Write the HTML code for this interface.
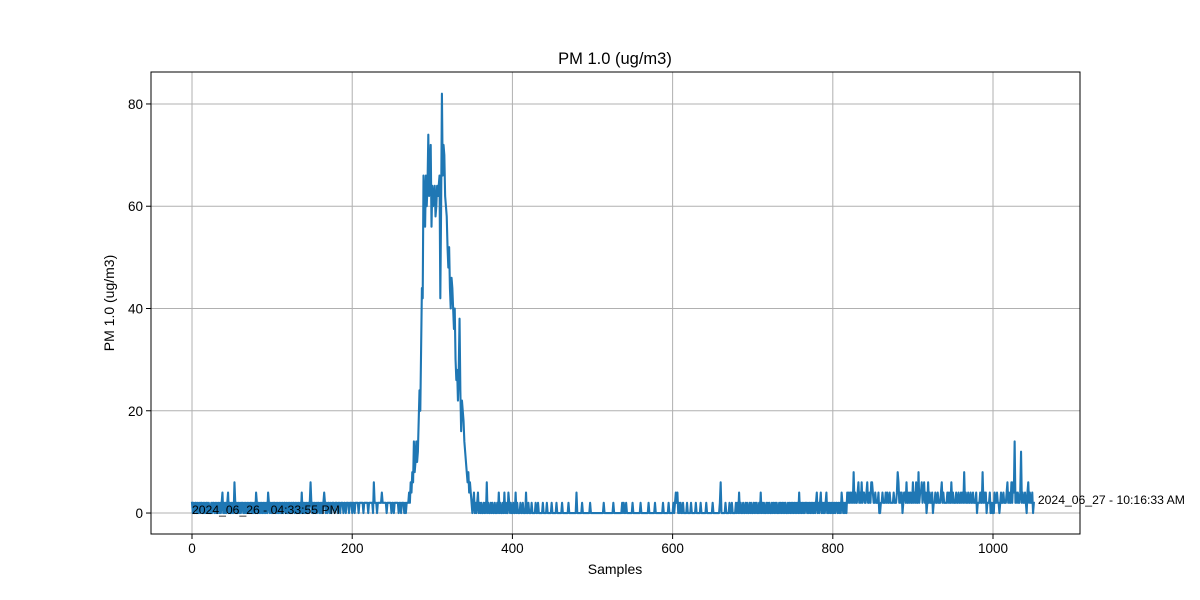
<!DOCTYPE html>
<html><head><meta charset="utf-8"><style>
html,body{margin:0;padding:0;background:#fff;}
svg{display:block;font-family:"Liberation Sans","DejaVu Sans",sans-serif;}
</style></head><body>
<svg id="chart" width="1200" height="600" viewBox="0 0 1200 600" xmlns="http://www.w3.org/2000/svg">
<rect width="1200" height="600" fill="#fff"/>
<g id="grid"></g><g id="ticks"></g>
<clipPath id="clip"><rect x="151" y="72" width="929" height="462"/></clipPath>
<g id="series" clip-path="url(#clip)"></g>
<rect x="151" y="72" width="929" height="462" fill="none" stroke="#000" stroke-width="1"/>
<text x="615" y="64" text-anchor="middle" font-size="16.5">PM 1.0 (ug/m3)</text>
<text x="615" y="574" text-anchor="middle" font-size="14">Samples</text>
<text transform="translate(114,303) rotate(-90)" text-anchor="middle" font-size="14">PM 1.0 (ug/m3)</text>
<g id="annots"></g>
</svg>
<script>
const segA=[2,0,2,0,2,2,0,2,0,2,0,2,2,0,2,0,2,0,2,2,0,2,0,0,2,0,2,2,0,2,
0,2,0,2,0,2,0,2,4,0,2,0,2,0,2,4,0,2,0,2,0,2,0,6,2,0,2,0,2,0,
2,0,2,2,0,2,0,2,0,2,0,2,0,2,2,0,2,0,2,0,4,2,0,2,0,2,0,2,0,2,
0,2,0,2,0,4,2,0,2,0,2,0,2,2,0,2,0,2,0,2,0,2,0,2,0,2,2,0,2,0,
2,0,2,0,2,0,2,2,0,2,0,2,0,2,0,2,0,4,0,2,0,2,0,2,0,2,0,2,6,2,
0,2,0,2,0,2,0,2,2,0,2,0,2,0,2,4,2,0,2,0,2,2,0,2,0,2,2,2,0,2,
2,2,0,2,2,0,2,2,2,0,2,2,0,2,2,2,0,2,2,2,0,2,2,0,2,2,2,2,0,2,
2,2,2,2,0,2,2,2,2,2,0,2,2,2,2,2,0,6,2,2,2,0,2,2,2,2,2,4,2,2,
2,2,2,0,2,2,2,2,2,0,2,2,0,2,2,2,2,2,0,2,2,0,2,2,2,0,2,0,2,2];
const segB=[2,4,2,6,4,8,6,14,8,10,14,10,12,18,24,20,32,44,42,66,
62,56,66,60,64,74,62,66,72,56,64,60,62,64,58,60,64,62,64,66,42,60,82,
66,72,70,62,60,58,52,48,52,44,40,46,44,40,36,40,30,26,28,22,28,38,24,16,22,20,18,14,12,10,8,6,8,4,6,4,2,0,2,4,0,2,0,2,4];
const segC=[0,2,0,2,0,0,2,0,2,0,6,0,2,0,0,2,0,2,0,0,2,0,0,2,0,4,0,2,0,0,
2,0,4,0,2,0,0,4,2,0,2,0,0,2,0,0,4,0,2,0,0,0,2,0,0,2,0,0,0,4,
0,0,2,0,0,0,2,0,0,0,0,2,0,0,2,0,0,0,0,0,2,0,0,0,0,2,0,0,0,0,
0,2,0,0,0,0,0,2,0,0,0,0,0,0,2,0,0,0,0,0,0,0,2,0,0,0,0,0,0,0,
0,0,4,0,0,0,0,0,0,2,0,0,0,0,0,0,0,0,0,2,0,0,0,0,0,0,0,0,0,0,
0,0,0,0,0,0,2,0,0,0,0,0,0,0,0,0,0,0,2,0,0,0,0,0,0,0,0,0,0,2,
0,2,0,0,2,0,0,0,0,0,0,0,2,0,0,0,0,0,0,0,0,0,2,0,0,0,0,0,0,0,
0,0,2,0,0,0,0,0,0,0,2,0,0,0,0,0,0,0,0,0,2,0,0,0,0,0,0,2,0,0,0,0];
const segD=[0,2,0,2,4,2,4,0,2,0,2,0,0,2,0,0,0,0,2,0,0,0,0,2,0,0,0,0,0,2,
0,0,0,0,0,2,0,0,0,0,0,0,2,0,0,0,0,0,0,0,2,0,0,0,0,0,0,0,0,2,
6,0,0,0,0,0,2,0,0,0,0,2,0,0,2,0,0,0,0,2,0,2,0,4,0,2,0,0,2,0,
0,2,0,2,0,0,2,0,2,0,0,2,0,2,0,2,0,0,2,0,4,0,2,0,2,0,0,2,0,2,
0,2,0,0,2,0,2,0,2,0,2,0,0,2,0,2,0,2,0,2,0,2,0,0,2,0,2,0,2,0,
2,0,2,0,2,0,2,0,4,0];
const segE=[2,0,2,0,2,0,2,2,0,2,0,2,0,2,0,2,0,2,0,2,4,0,2,0,2,4,0,2,0,2,
0,2,4,0,2,0,2,0,2,0,2,0,2,0,2,2,0,2,0,2,0,4,2,0,2,0,2,0,4,2,
4,2,4,2,4,2,8,2,4,2,2,4,6,2,4,2,6,2,4,4,2,2,4,6,2,2,4,2,6,6,
4,2,2,4,2,2,2,4,0,0,2,2,4,2,2,2,4,2,4,2,2,4,2,2,2,2,4,2,2,2,
4,8,6,2,4,2,4,0,2,4,4,2,6,2,2,4,2,4,2,2,6,2,4,2,6,2,2,8,2,4,
4,6,2,4,6,2,4,0,2,6,2,4,2,2,4,0,2,2,4,2,2,4,2,2,2,4,6,2,4,2,
2,2,2,4,2,4,2,2,6,2,4,2,2,2,4,2,2,4,2,2,4,2,4,2,8,2,4,2,2,4,
2,2,4,2,2,4,2,2,2,4,0,2,2,2,4,2,2,8,2,4,2,4,0,2,2,2,4,0,2,0,
2,0,4,2,2,4,2,2,0,2,4,2,2,4,2,2,2,4,6,2,4,2,2,6,2,6,4,14,2,4,
2,4,2,2,4,12,2,4,2,2,4,2,0,4,6,2,4,2,2,4,0,2];
const xTicks=[0,200,400,600,800,1000];
const yTicks=[0,20,40,60,80];
const startLabel="2024_06_26 - 04:33:55 PM";
const endLabel="2024_06_27 - 10:16:33 AM";

const values=segA.concat(segB,segC,segD,segE);
const NS="http://www.w3.org/2000/svg";
const X0=151,X1=1080,Y0=72,Y1=534;
const xMin=-51.2,xMax=1108.6,yMin=-4.1,yMax=86.25;
const sx=v=>X0+(v-xMin)/(xMax-xMin)*(X1-X0);
const sy=v=>Y1-(v-yMin)/(yMax-yMin)*(Y1-Y0);
function mk(tag,attrs,parent){const e=document.createElementNS(NS,tag);for(const k in attrs)e.setAttribute(k,attrs[k]);parent.appendChild(e);return e;}
const grid=document.getElementById('grid'),ticks=document.getElementById('ticks');
xTicks.forEach(t=>{const x=sx(t);
 const g=mk('line',{x1:x,x2:x,y1:Y0,y2:Y1,stroke:'#b0b0b0','stroke-width':1},grid);
 
 
 mk('line',{x1:x,x2:x,y1:Y1,y2:Y1+5,stroke:'#000','stroke-width':1},ticks);
 const l=mk('text',{x:x,y:Y1+19,'text-anchor':'middle','font-size':13.5},ticks);l.textContent=t;
 
 
});
yTicks.forEach(t=>{const y=sy(t);
 const g=mk('line',{x1:X0,x2:X1,y1:y,y2:y,stroke:'#b0b0b0','stroke-width':1},grid);
 
 
 mk('line',{x1:X0-5,x2:X0,y1:y,y2:y,stroke:'#000','stroke-width':1},ticks);
 const l=mk('text',{x:X0-8,y:y+5,'text-anchor':'end','font-size':13.5},ticks);l.textContent=t;
 
 
});
let d='';values.forEach((v,i)=>{d+=(i?'L':'M')+sx(i).toFixed(2)+','+sy(v).toFixed(2);});
const p=mk('path',{d:d,fill:'none',stroke:'#1f77b4','stroke-width':2.1,'stroke-linejoin':'round','stroke-linecap':'square'},document.getElementById('series'));


const an=document.getElementById('annots');
const a1=mk('text',{x:sx(0),y:sy(values[0])+11,'font-size':12.2},an);a1.textContent=startLabel;


const n=values.length-1;
const a2=mk('text',{x:sx(n)+4,y:sy(values[n])+1,'font-size':12.2},an);a2.textContent=endLabel;


</script>
</body></html>
